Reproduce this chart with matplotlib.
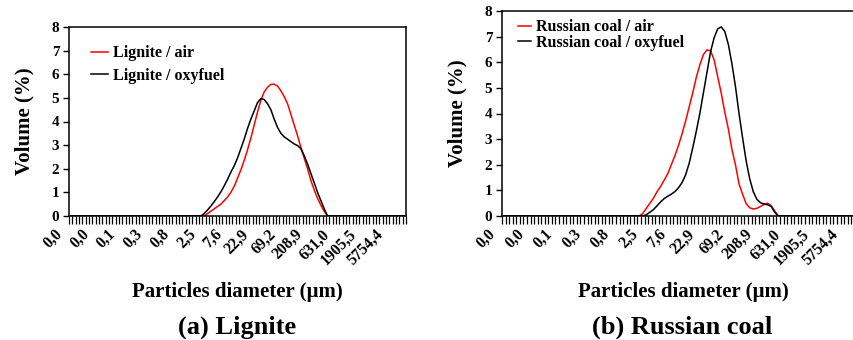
import numpy as np
import matplotlib
matplotlib.use("Agg")
import matplotlib.pyplot as plt
from matplotlib.transforms import ScaledTranslation

# ---- data -------------------------------------------------------------
n_classes = 101                      # size classes on the category axis
label_every = 8
tick_labels = ["0,0", "0,0", "0,1", "0,3", "0,8", "2,5", "7,6", "22,9",
               "69,2", "208,9", "631,0", "1905,5", "5754,4"]

# values (volume %) from the first non-zero class onwards; zeros elsewhere
lignite_air_start = 40
lignite_air = [0.0, 0.1, 0.2, 0.3, 0.4, 0.5, 0.65, 0.8, 1.0, 1.25, 1.6, 1.95,
               2.35, 2.8, 3.3, 3.85, 4.4, 4.9, 5.25, 5.45, 5.57, 5.58, 5.5,
               5.3, 5.05, 4.75, 4.3, 3.85, 3.4, 2.9, 2.45, 2.0, 1.5, 1.1,
               0.75, 0.45, 0.2, 0.0]
lignite_oxy_start = 39
lignite_oxy = [0.0, 0.1, 0.25, 0.42, 0.6, 0.8, 1.02, 1.27, 1.55, 1.85, 2.12,
               2.45, 2.85, 3.25, 3.7, 4.1, 4.45, 4.8, 4.97, 4.93, 4.75, 4.5,
               4.1, 3.75, 3.5, 3.35, 3.25, 3.15, 3.05, 2.98, 2.85, 2.55, 2.2,
               1.8, 1.4, 1.0, 0.65, 0.3, 0.0]
russian_air_start = 38
russian_air = [0.0, 0.1, 0.3, 0.5, 0.7, 0.95, 1.15, 1.4, 1.65, 2.0, 2.35,
               2.75, 3.2, 3.7, 4.25, 4.8, 5.4, 5.9, 6.3, 6.48, 6.45, 6.1,
               5.45, 4.8, 4.05, 3.4, 2.6, 2.0, 1.25, 0.85, 0.48, 0.32, 0.27,
               0.3, 0.37, 0.45, 0.5, 0.4, 0.2, 0.0]
russian_oxy_start = 39
russian_oxy = [0.0, 0.05, 0.15, 0.25, 0.4, 0.55, 0.68, 0.77, 0.85, 0.95, 1.1,
               1.3, 1.6, 2.05, 2.65, 3.3, 4.0, 4.8, 5.6, 6.4, 6.95, 7.3, 7.38,
               7.2, 6.7, 5.95, 5.05, 4.0, 3.05, 2.15, 1.45, 0.95, 0.65, 0.52,
               0.47, 0.44, 0.38, 0.15, 0.0]


def full(start, vals):
    y = np.zeros(n_classes)
    y[start:start + len(vals)] = vals
    return y


plt.rcParams['font.family'] = ['Liberation Serif', 'DejaVu Serif']
plt.rcParams['font.weight'] = 'bold'

fig = plt.figure(figsize=(8.54, 3.4), dpi=100)
W, H = 854, 340


def add_axes(x0, x1, y0, y1):
    return fig.add_axes([x0 / W, 1 - y1 / H, (x1 - x0) / W, (y1 - y0) / H])


def style(ax):
    x = np.arange(n_classes)
    ax.set_xlim(-0.5, n_classes - 0.5)
    ax.set_ylim(0, 8)
    ax.set_yticks(range(0, 9))
    ax.tick_params(axis='y', direction='out', length=4, width=1,
                   labelsize=11, pad=3)
    major = x[::label_every][:len(tick_labels)]
    ax.set_xticks(major)
    ax.set_xticklabels(tick_labels, rotation=45, ha='right', va='top',
                       fontsize=11.3, fontweight='bold')
    ax.set_xticks(np.arange(-0.5, n_classes, 1.0), minor=True)
    ax.tick_params(axis='x', which='major', length=0, pad=7.5)
    ax.tick_params(axis='x', which='minor', direction='out', length=5.5,
                   width=0.9)
    for lab in ax.get_xticklabels():
        lab.set_transform(lab.get_transform() +
                          ScaledTranslation(-5 / 100, 0, fig.dpi_scale_trans))
    for lab in ax.get_yticklabels():
        lab.set_fontweight('bold')
    for s in ax.spines.values():
        s.set_linewidth(1.1)
    return x


# ---- left panel --------------------------------------------------------
ax1 = add_axes(69, 406, 27, 216)
x = style(ax1)
ax1.plot(x, full(lignite_air_start, lignite_air), color='#ff0000', lw=1.1,
         label='Lignite / air')
ax1.plot(x, full(lignite_oxy_start, lignite_oxy), color='black', lw=1.1,
         label='Lignite / oxyfuel')
ax1.legend(loc='upper left', bbox_to_anchor=(0.047, 0.936), frameon=False,
           prop={'size': 11.5, 'weight': 'bold'}, handlelength=1.05,
           handletextpad=0.3, labelspacing=0.39, borderaxespad=0)
ax1.set_ylabel('Volume (%)', fontsize=15, fontweight='bold', labelpad=12)

# ---- right panel -------------------------------------------------------
ax2 = add_axes(502, 862, 11, 216)
x = style(ax2)
ax2.plot(x, full(russian_air_start, russian_air), color='#ff0000', lw=1.1,
         label='Russian coal / air')
ax2.plot(x, full(russian_oxy_start, russian_oxy), color='black', lw=1.1,
         label='Russian coal / oxyfuel')
ax2.legend(loc='upper left', bbox_to_anchor=(0.028, 0.991), frameon=False,
           prop={'size': 11.5, 'weight': 'bold'}, handlelength=0.8,
           handletextpad=0.3, labelspacing=-0.02, borderaxespad=0)
ax2.set_ylabel('Volume (%)', fontsize=15, fontweight='bold', labelpad=12)

# ---- axis titles and captions -------------------------------------------
fig.text(237 / W, 1 - 292 / H, 'Particles diameter (µm)', ha='center',
         va='center', fontsize=15, fontweight='bold')
fig.text(683 / W, 1 - 292 / H, 'Particles diameter (µm)', ha='center',
         va='center', fontsize=15, fontweight='bold')
fig.text(237 / W, 1 - 327 / H, '(a) Lignite', ha='center', va='center',
         fontsize=19, fontweight='bold')
fig.text(682 / W, 1 - 327 / H, '(b) Russian coal', ha='center', va='center',
         fontsize=19, fontweight='bold')

fig.savefig('out.png', dpi=100)
